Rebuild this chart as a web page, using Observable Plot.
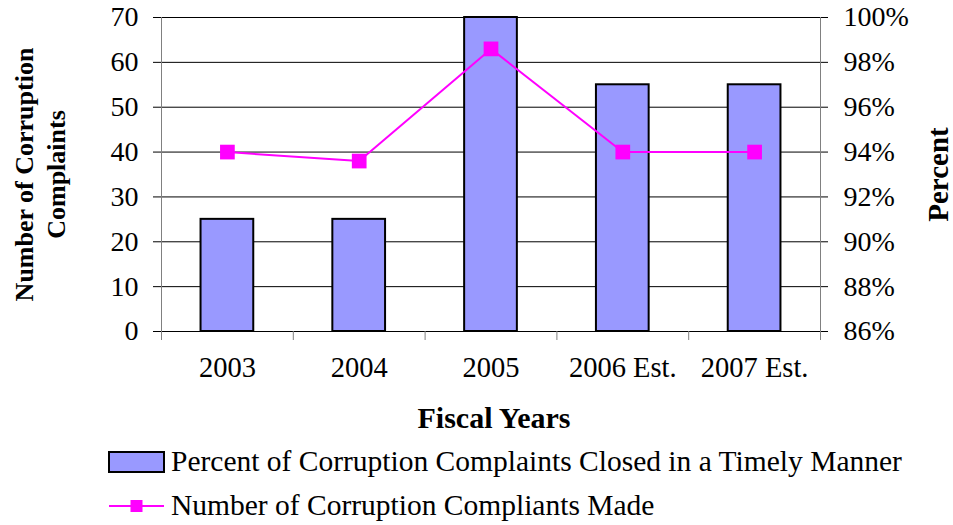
<!DOCTYPE html>
<html>
<head>
<meta charset="utf-8">
<script src="https://cdn.jsdelivr.net/npm/d3@7"></script>
<script src="https://cdn.jsdelivr.net/npm/@observablehq/plot@0.6"></script>
<style>
  html, body { margin: 0; padding: 0; background: white; }
  body { width: 953px; height: 525px; overflow: hidden; font-family: "Liberation Serif", "Times New Roman", serif; }
  .legend { position: relative; height: 85px; }
  .row { display: flex; align-items: center; height: 44px; padding-left: 108px; font-size: 29.5px; line-height: 1; color: black; }
  .row svg { margin-right: 6px; }
</style>
</head>
<body>
<div id="chart"></div>
<div class="legend" id="legend"></div>
<script>
const categories = ["2003", "2004", "2005", "2006 Est.", "2007 Est."];
const barValues = [25, 25, 70, 55, 55];          // left axis
const linePercents = [94, 93.6, 98.6, 94, 94];    // right axis (%)
const leftTicks = [0, 10, 20, 30, 40, 50, 60, 70];
const rightTicks = [86, 88, 90, 92, 94, 96, 98, 100];
const barLabel = "Percent of Corruption Complaints Closed in a Timely Manner";
const lineLabel = "Number of Corruption Compliants Made";

const barColor = "#9999FF";
const lineColor = "#FF00FF";

// map right-axis percent onto left-axis scale: 86% -> 0, 100% -> 70
const pToY = p => (p - 86) * 70 / 14;
const yToP = y => 86 + y * 14 / 70;

const data = categories.map((c, i) => ({i, cat: c, bar: barValues[i], pct: linePercents[i]}));

const chart = Plot.plot({
  width: 953,
  height: 440,
  marginTop: 17,
  marginBottom: 109,
  marginLeft: 161,
  marginRight: 133,
  style: {fontFamily: "Liberation Serif, Times New Roman, serif", fontSize: "28px", background: "white", color: "black", overflow: "visible"},
  x: {domain: [0, categories.length], axis: null},
  y: {domain: [0, 70], axis: null},
  marks: [
    Plot.ruleY(leftTicks, {stroke: "black", strokeWidth: 1, insetLeft: -8, insetRight: -8}),
    Plot.rectY(data, {x1: d => d.i + 0.3, x2: d => d.i + 0.7, y: "bar", fill: barColor, stroke: "black", strokeWidth: 2}),
    Plot.ruleX([0, categories.length], {y1: 0, y2: 70, stroke: "#808080", strokeWidth: 1}),
    Plot.axisX({ticks: d3.range(categories.length + 1), tickSize: 9, tickFormat: () => "", stroke: "#808080"}),
    Plot.text(data, {x: d => d.i + 0.5, text: "cat", frameAnchor: "bottom", dy: 45, fontSize: 28.5}),
    Plot.axisY({anchor: "left", ticks: leftTicks, tickSize: 0, tickPadding: 23, label: null, fontSize: 28}),
    Plot.axisY({anchor: "right", ticks: rightTicks.map(pToY), tickSize: 0, tickPadding: 23, label: null, fontSize: 28,
      tickFormat: d => Math.round(yToP(d)) + "%"}),
    Plot.line(data, {x: d => d.i + 0.5, y: d => pToY(d.pct), stroke: lineColor, strokeWidth: 2}),
    Plot.dot(data, {x: d => d.i + 0.5, y: d => pToY(d.pct), symbol: "square", r: 8.3, fill: lineColor, stroke: "none"}),
    Plot.text(["Number of Corruption\nComplaints"], {frameAnchor: "left", textAnchor: "middle", dx: -123, rotate: -90, fontWeight: "bold", fontSize: 26, lineHeight: 1.23}),
    Plot.text(["Percent"], {frameAnchor: "right", textAnchor: "middle", dx: 118, rotate: -90, fontWeight: "bold", fontSize: 29}),
    Plot.text(["Fiscal Years"], {frameAnchor: "bottom", dy: 96, dx: 3, fontWeight: "bold", fontSize: 30})
  ]
});
document.getElementById("chart").appendChild(chart);

const legend = document.getElementById("legend");
legend.innerHTML = `
  <div class="row">
    <svg width="57" height="22"><rect x="1" y="1" width="55" height="20" fill="${barColor}" stroke="black" stroke-width="2"/></svg>
    <span>${barLabel}</span>
  </div>
  <div class="row">
    <svg width="57" height="22"><line x1="1" y1="11" x2="56" y2="11" stroke="${lineColor}" stroke-width="2"/><rect x="22.5" y="5" width="12" height="12" fill="${lineColor}"/></svg>
    <span>${lineLabel}</span>
  </div>`;
</script>
</body>
</html>
